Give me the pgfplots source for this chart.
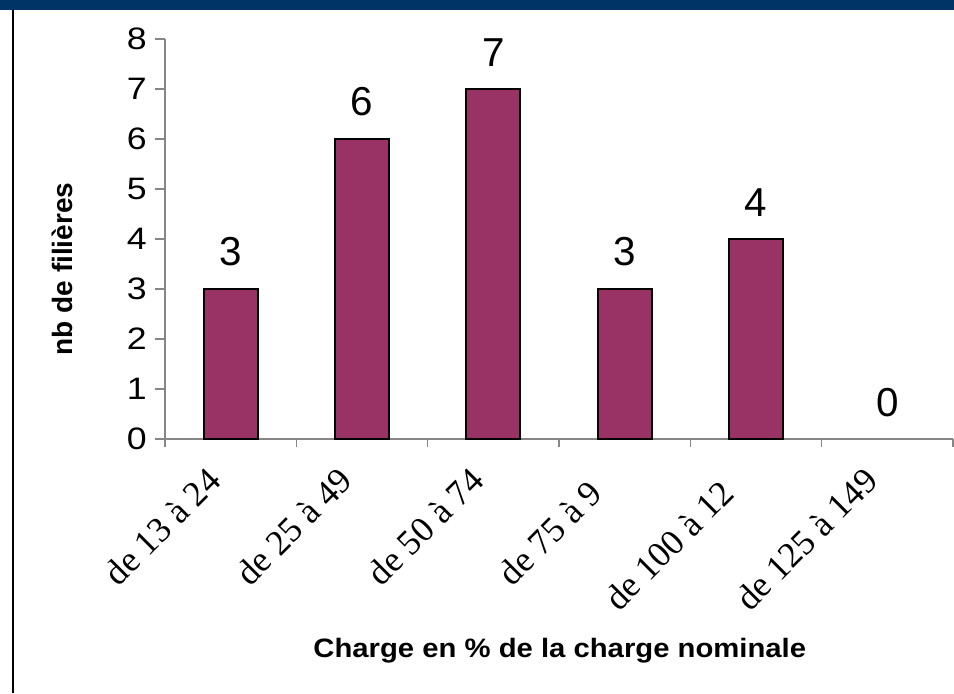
\documentclass[border=0pt]{standalone}
\usepackage{fontspec}
\setmainfont{Liberation Sans}
\newfontfamily\catfont{Liberation Serif}
\newfontfamily\widesans[FakeStretch=1.15]{Liberation Sans}
\newfontfamily\labelsans[FakeStretch=1.1]{Liberation Sans}
\usepackage{pgfplots}
\pgfplotsset{compat=1.18}
\definecolor{plum}{HTML}{993366}
\definecolor{band}{HTML}{003366}
\definecolor{axisgray}{HTML}{868686}

\begin{document}
\begin{tikzpicture}
\path[use as bounding box] (0,0) rectangle (477pt,346.5pt);
\fill[band] (0,341.5pt) rectangle (477pt,346.5pt);
\draw[black, line width=1pt] (6.25pt,0) -- (6.25pt,341.5pt);
\begin{axis}[
    at={(82.5pt,127pt)}, anchor=south west,
    scale only axis, width=394pt, height=200pt,
    xmin=0, xmax=6, ymin=0, ymax=8,
    axis x line*=bottom, axis y line*=left,
    axis line style={axisgray, line width=0.75pt},
    clip=false,
    /pgf/number format/assume math mode=true,
    tick align=outside,
    major tick length=5pt, minor tick length=4pt,
    ytick={0,1,2,3,4,5,6,7,8},
    y tick style={axisgray, line width=0.75pt},
    yticklabel style={font=\widesans\fontsize{15.5}{15.5}\selectfont, anchor=east, inner sep=0pt, xshift=-4pt},
    xtick={0.5,1.5,2.5,3.5,4.5,5.5},
    xticklabels={de 13 à 24, de 25 à 49, de 50 à 74, de 75 à 9\phantom{9}, de 100 à 12\phantom{4}, de 125 à 149},
    minor xtick={0,1,2,3,4,5,6},
    major x tick style={draw=none},
    minor x tick style={axisgray, line width=0.75pt},
    xticklabel style={font=\catfont\fontsize{17.8}{17.8}\selectfont, rotate=45, anchor=east, inner sep=0pt, xshift=-14.5pt, yshift=-3.2pt},
    xlabel={Charge en \% de la charge nominale},
    xlabel style={font=\labelsans\bfseries\fontsize{13.3}{13.3}\selectfont, at={(axis description cs:0.501,-0.529)}, anchor=center},
    ylabel={nb de filières},
    ylabel style={font=\bfseries\fontsize{14}{14}\selectfont, at={(axis description cs:-0.1307,0.425)}, anchor=center},
    ybar, bar width=27pt, bar shift=0pt,
    nodes near coords,
    every node near coord/.append style={font=\fontsize{20.2}{20.2}\selectfont, inner sep=0pt, anchor=south, yshift=11pt},
]
\addplot[fill=plum, draw=black, line width=1pt] coordinates {
    (0.5,3) (1.5,6) (2.5,7) (3.5,3) (4.5,4)
};
% the empty class: no visible bar, only its value
\addplot[draw=none, fill=none] coordinates {
    (5.5,0)
};
\end{axis}
\end{tikzpicture}
\end{document}
